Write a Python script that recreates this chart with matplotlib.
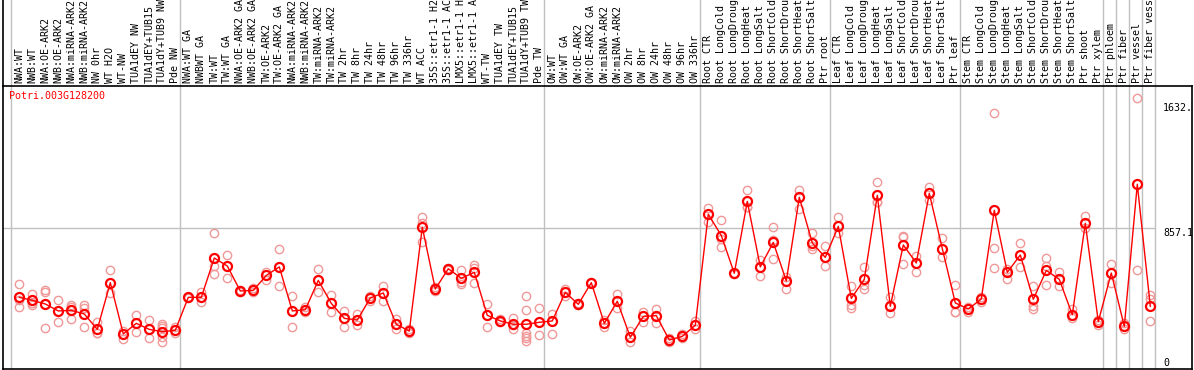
import matplotlib
matplotlib.use("Agg")
from matplotlib import pyplot as plt
from matplotlib.lines import Line2D
import matplotlib.transforms as mtransforms

gene = "Potri.003G128200"

labels = [
	"NWA:WT", "NWB:WT", "NWA:OE-ARK2", "NWB:OE-ARK2", "NWA:miRNA-ARK2", "NWB:miRNA-ARK2",
	"NW 0hr", "WT H2O", "WT-NW", "TUA1dEY NW", "TUA1dEY+TUB15", "TUA1dY+TUB9 NW", "Pde NW",
	"NWA:WT GA", "NWBWT GA", "TW:WT", "TW:WT GA", "NWA:OE-ARK2 GA", "NWB:OE-ARK2 GA",
	"TW:OE-ARK2", "TW:OE-ARK2 GA", "NWA:miRNA-ARK2", "NWB:miRNA-ARK2", "TW:miRNA-ARK2",
	"TW:miRNA-ARK2", "TW 2hr", "TW 8hr", "TW 24hr", "TW 48hr", "TW 96hr", "TW 336hr", "WT ACC",
	"35S::etr1-1 H2O", "35S::etr1-1 ACC", "LMX5::etr1-1 H2O", "LMX5::etr1-1 ACC", "WT-TW",
	"TUA1dEY TW", "TUA1dEY+TUB15", "TUA1dY+TUB9 TW", "Pde TW",
	"OW:WT", "OW:WT GA", "OW:OE-ARK2", "OW:OE-ARK2 GA", "OW:miRNA-ARK2", "OW:miRNA-ARK2",
	"OW 2hr", "OW 8hr", "OW 24hr", "OW 48hr", "OW 96hr", "OW 336hr",
	"Root CTR", "Root LongCold", "Root LongDrought", "Root LongHeat", "Root LongSalt",
	"Root ShortCold", "Root ShortDrought", "Root ShortHeat", "Root ShortSalt", "Ptr root",
	"Leaf CTR", "Leaf LongCold", "Leaf LongDrought", "Leaf LongHeat", "Leaf LongSalt",
	"Leaf ShortCold", "Leaf ShortDrought", "Leaf ShortHeat", "Leaf ShortSalt", "Ptr leaf",
	"Stem CTR", "Stem LongCold", "Stem LongDrought", "Stem LongHeat", "Stem LongSalt",
	"Stem ShortCold", "Stem ShortDrought", "Stem ShortHeat", "Stem ShortSalt", "Ptr shoot",
	"Ptr xylem", "Ptr phloem", "Ptr fiber", "Ptr vessel", "Ptr fiber vessel",
]

# first column index of each group
group_starts = [0, 13, 41, 53, 63, 73, 84, 85, 86, 87, 88]

means = [
	399, 379, 355, 309, 313, 289, 187, 496, 157, 227, 187, 172, 181,
	399, 399, 659, 606, 441, 445, 544, 600, 309, 317, 511, 359, 260, 249, 395, 428, 221, 176,
	862, 454, 588, 525, 564, 280, 243, 221, 221, 234,
	243, 432, 353, 496, 227, 373, 135, 273, 278, 117, 141, 214,
	948, 807, 558, 1033, 600, 762, 507, 1060, 758, 663,
	868, 392, 518, 1073, 340, 745, 626, 1086, 721, 362,
	322, 388, 974, 564, 679, 386, 577, 518, 284, 888, 238,
	560, 207, 1146, 340,
]

reps = [
	[485, 381, 333], [421, 359, 348], [447, 432, 196], [379, 234], [348, 337, 254],
	[348, 326, 201], [238, 165, 160], [577, 430], [179, 122], [280, 168], [249, 128],
	[223, 210, 194, 139, 106], [201, 161],
	[403, 392], [432, 366], [822, 606, 551], [677, 525], [447, 434], [458, 434], [569, 514],
	[716, 472], [410, 201], [337, 304], [584, 432], [412, 300], [309, 205], [287, 214],
	[410, 373], [474, 377], [258, 187], [187, 165], [930, 888, 767], [470, 438], [595, 582],
	[577, 503, 489], [613, 591, 496], [355, 205], [254, 234], [260, 216, 192],
	[405, 313, 161, 143, 128, 110], [326, 148],
	[289, 155], [454, 410], [360, 346], [500, 492], [249, 201], [419, 326], [176, 102],
	[304, 234], [324, 227], [128, 104], [155, 128], [245, 187],
	[987, 899], [908, 785, 730], [562, 554], [1106, 998, 997], [646, 538], [862, 778, 650],
	[536, 452], [1108, 983], [822, 738, 716], [736, 604],
	[928, 822], [472, 348, 326], [597, 481, 454], [1159, 1029, 1029], [399, 298],
	[807, 800, 619], [674, 569], [1130, 1042, 1086], [789, 668], [481, 300, 305],
	[337, 300], [399, 366], [1615, 723, 591], [589, 518], [756, 597], [474, 342, 322],
	[657, 608, 480], [564, 476], [320, 260], [939, 855], [249, 216],
	[619, 492], [227, 187], [1714, 578], [414, 386, 243],
]

mid_val = 857.1
axis_labels = [("1632.", 1683), ("857.1", mid_val), ("0", 0)]

W, H = 1194, 370
fig = plt.figure(figsize=(W / 100, H / 100), dpi=100)
ax_l, ax_r, ax_t, ax_b = 2.5, 1192, 85.5, 368.5
ax = fig.add_axes([ax_l / W, (H - ax_b) / H, (ax_r - ax_l) / W, (ax_b - ax_t) / H])

# column i sits at pixel 19.3 + 13 * i
px0, step = 19.3, 13.0
ax.set_xlim((ax_l - px0) / step, (ax_r - px0) / step)
# value v sits at pixel 357.7 - 0.1513 * v
ax.set_ylim((357.7 - ax_b) / 0.1513, (357.7 - ax_t) / 0.1513)

mono = "DejaVu Sans Mono"
fs = 7.2
grey = "#c0c0c0"
top_frac = (ax_b - 0.0) / (ax_b - ax_t)

for s in group_starts:
	ax.axvline(s - 0.66, ymin=0, ymax=top_frac, color=grey, lw=1, clip_on=False, zorder=1)

sep_right = (group_starts[-1] - 0.66 - ax.get_xlim()[0]) / (ax.get_xlim()[1] - ax.get_xlim()[0])
ax.axhline(mid_val, xmin=0, xmax=sep_right, color=grey, lw=1, zorder=1)

for i, r in enumerate(reps):
	ax.plot([i] * len(r), r, linestyle="none", marker="o", ms=6, mfc="none",
		mec="#f09898", mew=1, zorder=2)

xs = list(range(len(means)))
ax.plot(xs, means, color="#ff0000", lw=1, zorder=3)
ax.plot(xs, means, linestyle="none", marker="o", ms=6.5, mfc="none", mec="#ff0000",
	mew=1.6, zorder=4)

trans = mtransforms.blended_transform_factory(ax.transData, ax.transAxes)
for i, lab in enumerate(labels):
	ax.text(i, 1 + 2.5 / (ax_b - ax_t), lab, transform=trans, rotation=90, ha="center",
		va="bottom", family=mono, fontsize=fs, color="black", clip_on=False)

for txt, v in axis_labels:
	ax.text((1163 - px0) / step, v, txt, ha="left", va="top", family=mono, fontsize=fs,
		color="black")

fig.text(9 / W, 1 - 91 / H, gene, ha="left", va="top", family=mono, fontsize=fs, color="#ff0000")

for sp in ax.spines.values():
	sp.set_color("black")
	sp.set_linewidth(1.2)
ax.set_xticks([])
ax.set_yticks([])

# left border runs up through the label strip
fig.add_artist(Line2D([ax_l / W, ax_l / W], [(H - ax_t) / H, 1], color="black", lw=1.2))

fig.savefig("out.png", dpi=100)
